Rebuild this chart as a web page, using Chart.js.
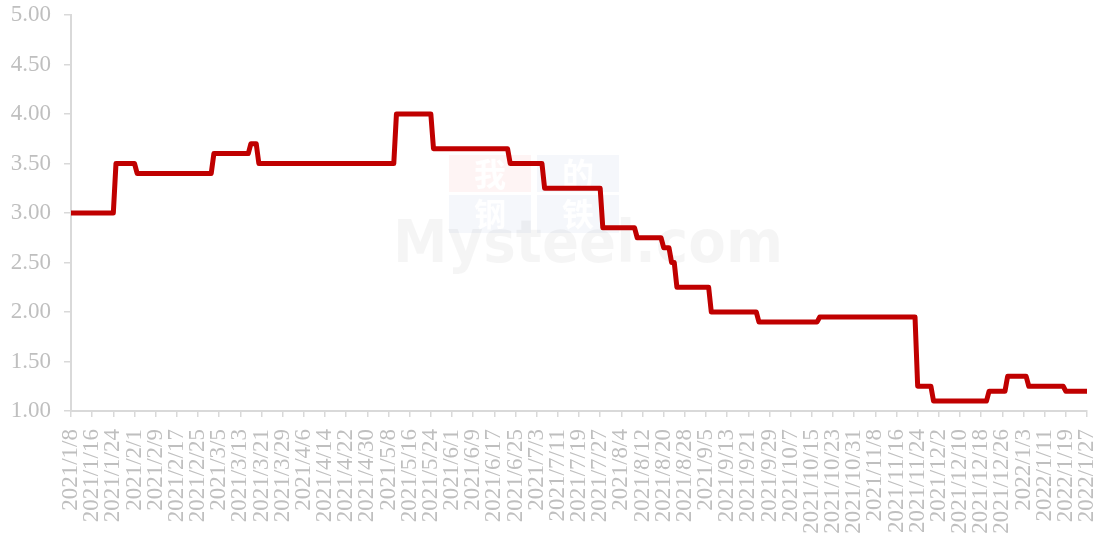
<!DOCTYPE html>
<html>
<head>
<meta charset="utf-8">
<script src="https://cdn.jsdelivr.net/npm/chart.js@4.4.1/dist/chart.umd.min.js"></script>
<style>
  html, body { margin: 0; padding: 0; background: #ffffff; }
  #wrap { width: 1102px; height: 534px; position: relative; }
</style>
</head>
<body>
<div id="wrap"><canvas id="priceChart"></canvas></div>
<script>
// first day of each price level, and the level itself
const changeDates = [
  "2021/1/8", "2021/1/25", "2021/2/2", "2021/3/3", "2021/3/17", "2021/3/20",
  "2021/5/11", "2021/5/25", "2021/6/23", "2021/7/6", "2021/7/28", "2021/8/10",
  "2021/8/20", "2021/8/23", "2021/8/25", "2021/9/7", "2021/9/25", "2021/10/18",
  "2021/11/24", "2021/11/30", "2021/12/21", "2021/12/28", "2022/1/5", "2022/1/19"
];
const levels = [
  3.00, 3.50, 3.40, 3.60, 3.70, 3.50,
  4.00, 3.65, 3.50, 3.25, 2.85, 2.75,
  2.65, 2.50, 2.25, 2.00, 1.90, 1.95,
  1.25, 1.10, 1.20, 1.35, 1.25, 1.20
];
const startDate = "2021/1/8";
const endDate = "2022/1/27";
const labelStep = 8; // one date label every 8 days
const yTicks = [1.00, 1.50, 2.00, 2.50, 3.00, 3.50, 4.00, 4.50, 5.00];

const DAY = 24 * 3600 * 1000;
function toUTC(s) {
  const p = s.split("/").map(Number);
  return Date.UTC(p[0], p[1] - 1, p[2]);
}
function dayIndex(s) {
  return Math.round((toUTC(s) - toUTC(startDate)) / DAY);
}
function dateLabel(i) {
  const d = new Date(toUTC(startDate) + i * DAY);
  return d.getUTCFullYear() + "/" + (d.getUTCMonth() + 1) + "/" + d.getUTCDate();
}

const lastDay = dayIndex(endDate);
const points = [];
for (let i = 0; i < levels.length; i++) {
  const from = dayIndex(changeDates[i]);
  const to = i < levels.length - 1 ? dayIndex(changeDates[i + 1]) - 1 : lastDay;
  points.push({ x: from, y: levels[i] });
  points.push({ x: to, y: levels[i] });
}

const labelFont = { family: "'Liberation Serif', 'Times New Roman', serif", size: 23 };
const labelColor = "#bfbfbf";
const axisColor = "#d9d9d9";

// faint site watermark behind the line
const watermark = {
  id: "watermark",
  beforeDatasetsDraw(chart) {
    const ctx = chart.ctx;
    ctx.save();
    ctx.fillStyle = "rgba(230, 60, 60, 0.06)";
    ctx.fillRect(449, 155, 82, 37);
    ctx.fillStyle = "rgba(60, 90, 170, 0.05)";
    ctx.fillRect(537, 155, 82, 37);
    ctx.fillRect(449, 195, 82, 38);
    ctx.fillRect(537, 195, 82, 38);
    ctx.fillStyle = "rgba(255,255,255,0.95)";
    ctx.font = "bold 32px 'Noto Sans CJK SC'";
    ctx.textAlign = "center";
    ctx.textBaseline = "middle";
    ctx.fillText("我", 490, 174);
    ctx.fillText("的", 578, 174);
    ctx.fillText("钢", 490, 214);
    ctx.fillText("铁", 578, 214);
    ctx.font = "bold 58px 'DejaVu Sans'";
    ctx.textAlign = "left";
    ctx.textBaseline = "alphabetic";
    const w = ctx.measureText("Mysteel.com").width;
    ctx.translate(393, 262);
    ctx.scale(390 / w, 1);
    ctx.fillStyle = "rgba(0,0,0,0.04)";
    ctx.fillText("Mysteel.com", 0, 0);
    ctx.restore();
  }
};

new Chart(document.getElementById("priceChart"), {
  type: "line",
  data: {
    datasets: [{
      data: points,
      borderColor: "#c00000",
      borderWidth: 5,
      borderJoinStyle: "round",
      borderCapStyle: "round",
      pointRadius: 0,
      tension: 0,
      fill: false
    }]
  },
  options: {
    responsive: true,
    maintainAspectRatio: false,
    animation: false,
    layout: { padding: { top: 15, right: 15, left: 0, bottom: 0 } },
    plugins: { legend: { display: false }, tooltip: { enabled: false } },
    scales: {
      x: {
        type: "linear",
        min: 0,
        max: lastDay,
        afterFit(scale) {
          scale.height = 123;
          scale.paddingLeft = 0;
          scale.paddingRight = 0;
        },
        afterBuildTicks(scale) {
          const t = [];
          for (let i = 0; i <= lastDay; i += labelStep) t.push({ value: i });
          scale.ticks = t;
        },
        border: { display: true, color: axisColor, width: 2 },
        grid: { display: true, drawOnChartArea: false, drawTicks: true, tickLength: 6, color: axisColor, lineWidth: 1.5 },
        ticks: {
          autoSkip: false,
          minRotation: 90,
          maxRotation: 90,
          padding: 12,
          color: labelColor,
          font: labelFont,
          callback: (v) => dateLabel(v)
        }
      },
      y: {
        min: 1,
        max: 5,
        afterFit(scale) {
          scale.width = 71;
          scale.paddingTop = 0;
          scale.paddingBottom = 0;
        },
        afterBuildTicks(scale) { scale.ticks = yTicks.map(v => ({ value: v })); },
        border: { display: true, color: axisColor, width: 2 },
        grid: { display: true, drawOnChartArea: false, drawTicks: true, tickLength: 7, color: axisColor, lineWidth: 1.5 },
        ticks: {
          padding: 13,
          color: labelColor,
          font: labelFont,
          callback: (v) => v.toFixed(2)
        }
      }
    }
  },
  plugins: [watermark]
});
</script>
</body>
</html>
